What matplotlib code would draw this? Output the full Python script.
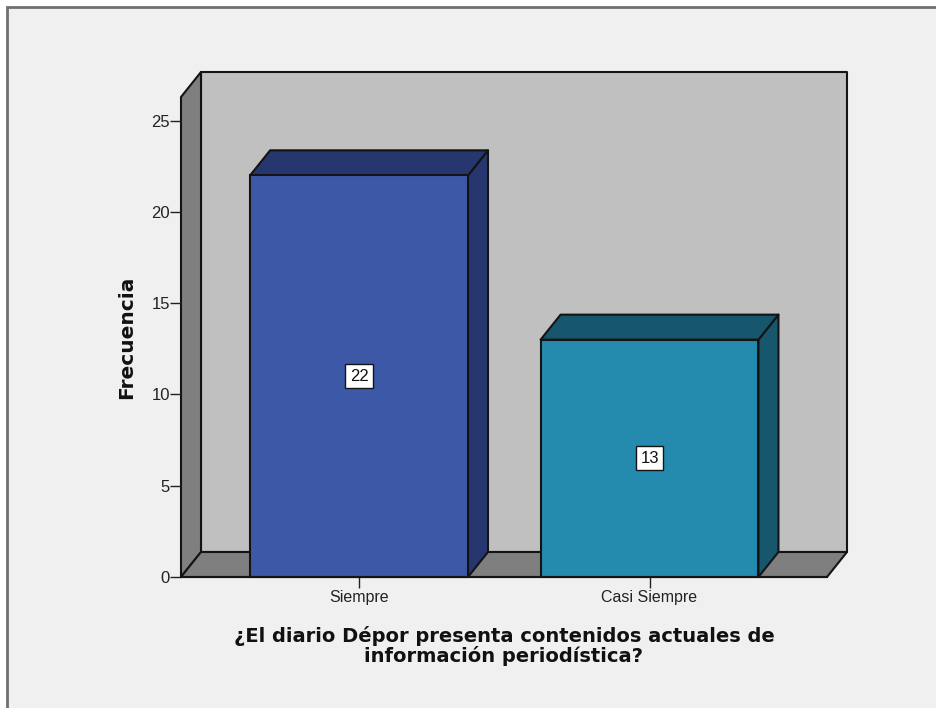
#!/usr/bin/env python
import matplotlib
matplotlib.use("Agg")
import matplotlib.pyplot as plt
from matplotlib.patches import Rectangle

categories = ["Siempre", "Casi Siempre"]
counts = [22, 13]
y_ticks = [0, 5, 10, 15, 20, 25]
x_label = "¿El diario Dépor presenta contenidos actuales de\ninformación periodística?"
y_label = "Frecuencia"

W, H = 936, 708
BG = "#f0f0f0"
EDGE = "#141414"
front_colors = ["#3e58a8", "#248bae"]
top_colors = ["#26366e", "#17576d"]

plt.rcParams['font.family'] = ['Liberation Sans', 'DejaVu Sans']

fig = plt.figure(figsize=(W / 100, H / 100), dpi=100, facecolor="white")

# grey panel behind the chart
panel = fig.add_axes([0, 0, 1, 1])
panel.set_xlim(0, W)
panel.set_ylim(H, 0)
panel.axis("off")
panel.add_patch(Rectangle((6.5, 7), W + 10, H + 10, facecolor=BG, edgecolor="#707070", lw=2))

# front plane of the 3d box
left, right, top, bottom = 181, 827, 97, 577
ax = fig.add_axes([left / W, 1 - bottom / H, (right - left) / W, (bottom - top) / H])
ax.patch.set_visible(False)
ax.set_xlim(-0.613, 1.611)
ax.set_ylim(0, 26.29)
for s in ["top", "right"]:
    ax.spines[s].set_visible(False)
ax.spines["left"].set_visible(False)
ax.spines["bottom"].set_color(EDGE)
ax.spines["bottom"].set_linewidth(1.5)
ax.spines["bottom"].set_zorder(6)

x0, x1 = ax.get_xlim()
y0, y1 = ax.get_ylim()
dx = 20 * (x1 - x0) / (right - left)
dy = 25 * (y1 - y0) / (bottom - top)
lw = 1.5


def poly(xs, ys, color, z):
    ax.fill(xs, ys, facecolor=color, edgecolor=EDGE, lw=lw, clip_on=False, zorder=z, joinstyle="round")


# walls and floor
poly([x0 + dx, x1 + dx, x1 + dx, x0 + dx], [y0 + dy, y0 + dy, y1 + dy, y1 + dy], "#c0c0c0", 1)
poly([x0, x0 + dx, x0 + dx, x0], [y0, y0 + dy, y1 + dy, y1], "#7f7f7f", 1.1)
poly([x0, x1, x1 + dx, x0 + dx], [y0, y0, y0 + dy, y0 + dy], "#7f7f7f", 1.1)

# bars
bar_w = 0.75
positions = range(len(categories))
for i, v in zip(positions, counts):
    l, r = i - bar_w / 2, i + bar_w / 2
    poly([r, r + dx, r + dx, r], [0, dy, v + dy, v], top_colors[i], 3)
    poly([l, r, r + dx, l + dx], [v, v, v + dy, v + dy], top_colors[i], 3)
    ax.bar(i, v, bar_w, color=front_colors[i], edgecolor=EDGE, lw=lw, zorder=4, clip_on=False)
    ax.text(i, v / 2, str(v), ha="center", va="center", fontsize=12, color="#111111", zorder=5,
            bbox=dict(boxstyle="square,pad=0.27", facecolor="white", edgecolor=EDGE, lw=1))

ax.set_xticks(list(positions), categories)
ax.set_yticks(y_ticks)
ax.tick_params(axis="x", length=8, width=1, color="#222222", labelsize=11.5, labelcolor="#222222", pad=1.5)
ax.tick_params(axis="y", length=8, width=1, color="#222222", labelsize=12, labelcolor="#222222", pad=0)
bold = dict(family="DejaVu Sans", fontweight="bold", color="#111111")
ax.set_xlabel(x_label, fontsize=14, linespacing=1.0, labelpad=15, **bold)
ax.set_ylabel(y_label, fontsize=14.5, labelpad=11, **bold)

fig.savefig("out.png", dpi=100, facecolor=fig.get_facecolor())
